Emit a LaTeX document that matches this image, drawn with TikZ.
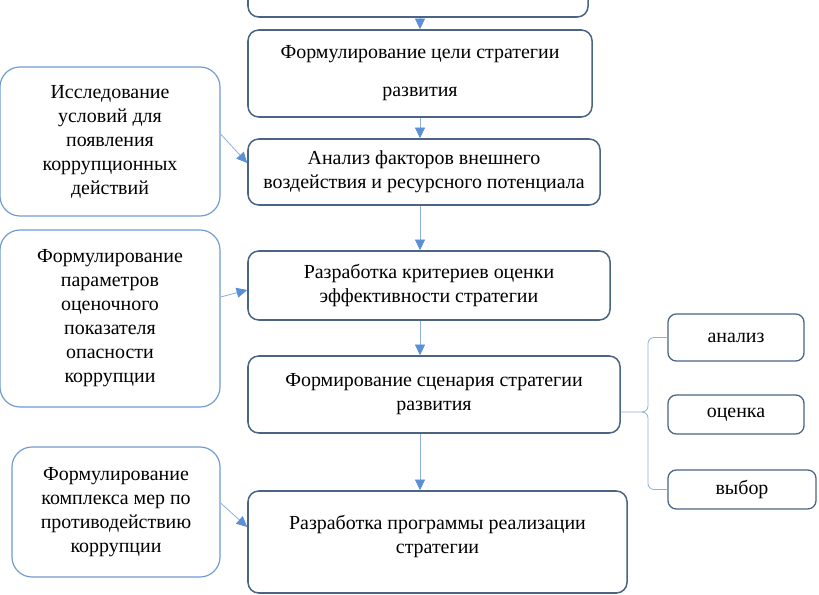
\documentclass[tikz,border=0pt]{standalone}
\usepackage{fontspec}
\setmainfont{Liberation Serif}
\usetikzlibrary{arrows.meta}
\usetikzlibrary{shapes}

\definecolor{boxline}{HTML}{4B6483}
\definecolor{sideline}{HTML}{6F9BD1}
\definecolor{linkline}{HTML}{8EB0DA}
\definecolor{tipfill}{HTML}{5B8FD6}

\begin{document}
\begin{tikzpicture}[
		x=0.03cm, y=-0.03cm,
		font=\fontsize{17}{20.5}\selectfont,
		>={Triangle[length=0.32cm,width=0.3cm,color=tipfill]},
		mainbox/.style={draw=boxline,line width=1.3pt,rounded corners=0.32cm,align=center,inner sep=0pt},
		sidebox/.style={draw=sideline,line width=1pt,rounded corners=0.6cm,align=center,inner sep=0pt},
		smallbox/.style={draw=boxline,line width=1.1pt,rounded corners=0.25cm,align=center,inner sep=0pt},
		arr/.style={draw=linkline,line width=0.7pt,->},
		link/.style={draw=linkline,line width=0.7pt}
	]
		\useasboundingbox (0,0) rectangle (819,595);

		% Main chain
		\node[mainbox,minimum width=10.2cm,minimum height=1.71cm] (b1) at (418,-11.5) {};
		\node[mainbox,minimum width=10.32cm,minimum height=2.61cm] (b2) at (420,73.5)
			{Формулирование цели стратегии\\[0.42cm] развития};
		\node[mainbox,minimum width=10.56cm,minimum height=1.98cm] (b3) at (424,172)
			{Анализ факторов внешнего\\ воздействия и ресурсного потенциала};
		\node[mainbox,minimum width=10.86cm,minimum height=2.07cm] (b4) at (429,285.5)
			{Разработка критериев оценки\\ эффективности стратегии};
		\node[mainbox,minimum width=11.16cm,minimum height=2.31cm] (b5) at (434,394.5)
			{Формирование сценария стратегии\\ развития};
		\node[mainbox,minimum width=11.37cm,minimum height=3.06cm] (b6) at (437.5,542) {};
		\node[align=center,inner sep=0pt] (b6text) at (437.5,536)
			{Разработка программы реализации\\ стратегии};

		% Side boxes
		\node[sidebox,minimum width=6.6cm,minimum height=4.47cm] (L1) at (110,141.5)
			{Исследование\\ условий для\\ появления\\ коррупционных\\ действий};
		\node[sidebox,minimum width=6.6cm,minimum height=5.31cm] (L2) at (110,318.5)
			{Формулирование\\ параметров\\ оценочного\\ показателя\\ опасности\\ коррупции};
		\node[sidebox,minimum width=6.24cm,minimum height=3.9cm] (L3) at (116,512)
			{Формулирование\\ комплекса мер по\\ противодействию\\ коррупции};

		% Scenario steps
		\node[smallbox,minimum width=4.08cm,minimum height=1.41cm] (r1) at (736,337.5) {анализ};
		\node[smallbox,minimum width=4.08cm,minimum height=1.17cm] (r2) at (736,414.5) {оценка};
		\node[smallbox,minimum width=4.44cm,minimum height=1.17cm] (r3) at (742,489.5) {выбор};

		% Arrows
		\coordinate (axis) at (420,0);
		\draw[arr] (b1.south -| axis) -- (b2.north -| axis);
		\draw[arr] (b2.south -| axis) -- (b3.north -| axis);
		\draw[arr] (b3.south -| axis) -- (b4.north -| axis);
		\draw[arr] (b4.south -| axis) -- (b5.north -| axis);
		\draw[arr] (b5.south -| axis) -- (b6.north -| axis);

		\draw[arr] ([yshift=0.225cm]L1.east) -- ([yshift=0.27cm]b3.west);
		\draw[arr] ([yshift=0.645cm]L2.east) -- ([yshift=-0.135cm]b4.west);
		\draw[arr] ([yshift=0.27cm]L3.east) -- ([yshift=0.45cm]b6.west);

		% Brace
		\coordinate (fork) at (642,412);
		\coordinate (spine) at (648,412);
		\draw[link] ([yshift=-0.525cm]b5.east) -- (fork);
		\draw[link,rounded corners=0.18cm] (r1.west) -| (spine) -- (fork);
		\draw[link,rounded corners=0.18cm] (fork) -- (spine) |- (r3.west);
	\end{tikzpicture}
\end{document}
